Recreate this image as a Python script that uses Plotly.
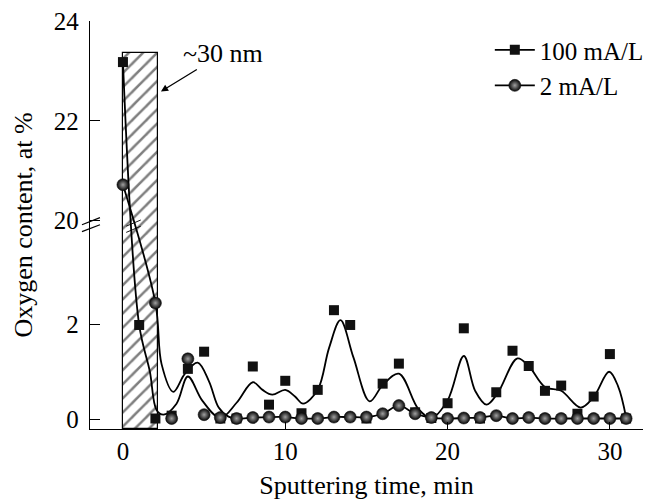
import plotly.graph_objects as go

# ---------------- data ----------------
time_100 = [0, 1, 2, 3, 4, 5, 6, 7, 8, 9, 10, 11, 12, 13, 14, 15,
            16, 17, 18, 19, 20, 21, 22, 23, 24, 25, 26, 27, 28, 29, 30, 31]
oxygen_100 = [23.18, 1.98, 0.02, 0.08, 1.06, 1.42, 0.02, 0.02, 1.11, 0.31, 0.81,
              0.13, 0.62, 2.29, 1.98, 0.02, 0.75, 1.17, 0.15, 0.03, 0.34, 1.91,
              0.02, 0.57, 1.44, 1.12, 0.60, 0.71, 0.12, 0.48, 1.37, 0.02]

time_2 = [0, 2, 3, 4, 5, 6, 7, 8, 9, 10, 11, 12, 13, 14, 15,
          16, 17, 18, 19, 20, 21, 22, 23, 24, 25, 26, 27, 28, 29, 30, 31]
oxygen_2 = [20.72, 2.44, 0.02, 1.27, 0.10, 0.04, 0.02, 0.04, 0.05, 0.05, 0.02,
            0.02, 0.05, 0.05, 0.05, 0.12, 0.29, 0.12, 0.04, 0.02, 0.03, 0.04,
            0.08, 0.02, 0.04, 0.02, 0.02, 0.02, 0.02, 0.02, 0.02]

# smoothed fit curve of the 100 mA/L series
fit100_t = [0, 1, 1.66, 2.07, 2.5, 3.3, 4.0, 4.9, 6.0, 7.0, 8.0, 8.6, 9.2, 10.0,
            10.6, 11.1, 12.0, 12.7, 13.4, 14.2, 15.2, 16.0, 17.0, 18.2, 19.0,
            20.0, 21.0, 21.7, 22.4, 23.1, 24.3, 25.0, 26.0, 27.0, 28.2, 29.0,
            29.95, 30.5, 31.0]
fit100_o = [23.18, 1.98, 1.0, 0.2, 0.1, 0.33, 0.9, 0.39, 0.03, 0.35, 0.78, 0.62,
            0.52, 0.62, 0.48, 0.33, 0.62, 1.5, 2.08, 1.3, 0.38, 0.72, 0.96, 0.22,
            0.03, 0.4, 1.33, 0.6, 0.31, 0.56, 1.28, 1.12, 0.68, 0.6, 0.25, 0.47,
            1.0, 0.7, 0.04]

# early part of the 2 mA/L curve (before it joins the points)
fit2_t_early = [0, 2, 2.38, 3.1, 3.8, 4.6, 5.3, 5.9, 6.5]
fit2_o_early = [20.72, 2.44, 1.16, 0.58, 0.95, 1.19, 0.8, 0.25, 0.06]

hatch_t = [0, 2.17]
hatch_top = 23.36

y_ticks = [0, 2, 20, 22, 24]
x_ticks = [0, 10, 20, 30]

# ---------------- broken y axis ----------------
BREAK_AT = 4.166      # axis position of the break (lower scale units)
UPPER_K = 1.045       # relative scale of the upper segment
Y_MIN = -0.2


def to_axis(v):
    if v is None:
        return None
    return v if v <= BREAK_AT else BREAK_AT + (v - 20.0) * UPPER_K


Y_MAX = to_axis(24) + 0.004

FONT = "Liberation Serif"

fig = go.Figure()

# hatched region (~30 nm)
fig.add_trace(go.Bar(
    x=[(hatch_t[0] + hatch_t[1]) / 2], width=[hatch_t[1] - hatch_t[0]],
    base=[Y_MIN], y=[to_axis(hatch_top) - Y_MIN],
    marker=dict(color="white", line=dict(color="black", width=1.2),
                pattern=dict(shape="/", size=10, solidity=0.25,
                             fgcolor="black", bgcolor="white")),
    showlegend=False, hoverinfo="skip"))

# fit curves
fig.add_trace(go.Scatter(
    x=fit100_t, y=[to_axis(v) for v in fit100_o], mode="lines",
    line=dict(color="black", width=1.8, shape="spline", smoothing=1.0),
    showlegend=False, hoverinfo="skip"))

fit2_t = fit2_t_early + [t for t in time_2 if t >= 7]
fit2_o = fit2_o_early + [o for t, o in zip(time_2, oxygen_2) if t >= 7]
fig.add_trace(go.Scatter(
    x=fit2_t, y=[to_axis(v) for v in fit2_o], mode="lines",
    line=dict(color="black", width=1.8, shape="spline", smoothing=1.0),
    showlegend=False, hoverinfo="skip"))

sq_marker = dict(symbol="square", size=10, color="#111111",
                 line=dict(width=0))
ball_marker = dict(symbol="circle", size=12, color="#050505",
                   gradient=dict(type="radial", color="#a0a0a0"),
                   line=dict(width=0.6, color="#111111"))

fig.add_trace(go.Scatter(
    x=time_100, y=[to_axis(v) for v in oxygen_100], mode="markers",
    marker=sq_marker, showlegend=False, name="100 mA/L"))
fig.add_trace(go.Scatter(
    x=time_2, y=[to_axis(v) for v in oxygen_2], mode="markers",
    marker=ball_marker, showlegend=False, name="2 mA/L"))

# legend entries
fig.add_trace(go.Scatter(x=[None], y=[None], mode="lines+markers",
                         name="100 mA/L", marker=sq_marker,
                         line=dict(color="black", width=1.8)))
fig.add_trace(go.Scatter(x=[None], y=[None], mode="lines+markers",
                         name="2 mA/L", marker=ball_marker,
                         line=dict(color="black", width=1.8)))

# axis break marks (axis units)
shapes = []
for y0, y1 in [(4.08, 4.23), (3.935, 4.08)]:
    shapes.append(dict(type="line", xref="paper", yref="y",
                       x0=-0.0145, x1=0.018, y0=y0, y1=y1,
                       line=dict(color="black", width=1.2)))
# small break marks on the curves inside the hatched bar
for y0, y1 in [(4.05, 4.18), (3.92, 4.05)]:
    shapes.append(dict(type="line", xref="x", yref="y",
                       x0=0.2, x1=1.1, y0=y0, y1=y1,
                       line=dict(color="black", width=0.9)))

fig.update_layout(
    width=652, height=492,
    margin=dict(l=82, r=17, t=13, b=71, autoexpand=False),
    plot_bgcolor="white", paper_bgcolor="white",
    font=dict(family=FONT, size=25, color="black"),
    showlegend=True,
    legend=dict(x=0.723, y=0.985, xanchor="left", yanchor="top",
                bgcolor="rgba(0,0,0,0)", borderwidth=0,
                font=dict(family=FONT, size=25), tracegroupgap=0,
                itemwidth=40),
    shapes=shapes,
    annotations=[dict(x=2.34, y=to_axis(22.59), xref="x", yref="y",
                      text="~30 nm", showarrow=True, arrowhead=2,
                      arrowsize=1.1, arrowwidth=1.3, arrowcolor="black",
                      ax=62, ay=-38, font=dict(family=FONT, size=26))],
    bargap=0,
)

fig.update_xaxes(
    range=[-2.03, 32.04], tickvals=x_ticks, ticks="inside", ticklen=7,
    tickwidth=1.2, tickcolor="black", showline=True, linecolor="black",
    linewidth=1.3, showgrid=False, zeroline=False,
    tickfont=dict(family=FONT, size=25), ticklabeloverflow="allow",
    title=dict(text="Sputtering time, min", font=dict(family=FONT, size=26),
               standoff=13))
fig.update_yaxes(
    range=[Y_MIN, Y_MAX], tickvals=[to_axis(v) for v in y_ticks],
    ticktext=[str(v) for v in y_ticks], ticks="inside", ticklen=10,
    tickwidth=1.2, tickcolor="black", showline=True, linecolor="black",
    linewidth=1.3, showgrid=False, zeroline=False, ticklabelstandoff=5,
    tickfont=dict(family=FONT, size=25), ticklabeloverflow="allow",
    title=dict(text="Oxygen content, at %", font=dict(family=FONT, size=26),
               standoff=13))

fig.write_html("out.html")
